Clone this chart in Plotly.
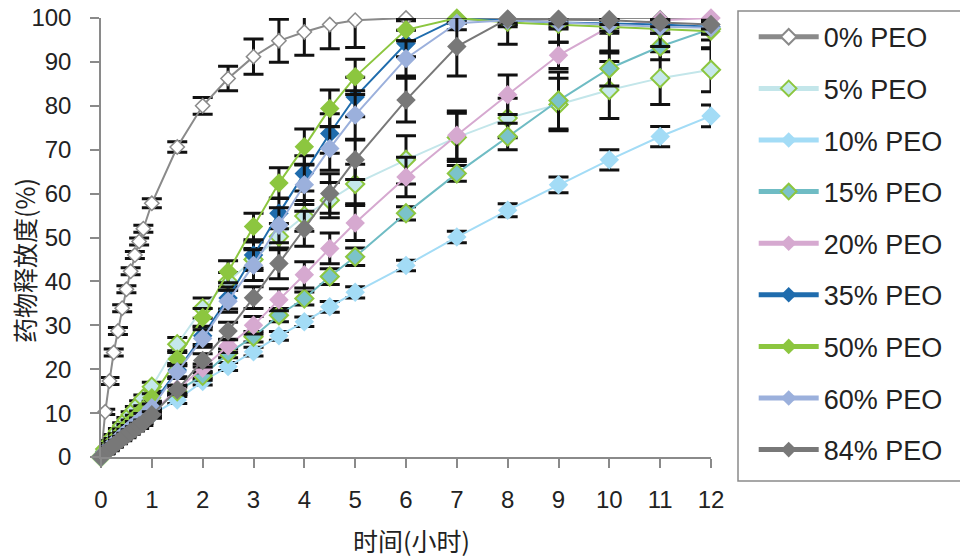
import plotly.graph_objects as go

# time points (hours): 0, 5..50 min, 1 h, then half-hourly to 5 h, then hourly
time_h = [0, 5/60, 10/60, 15/60, 20/60, 25/60, 30/60, 35/60, 40/60, 45/60, 50/60,
          1, 1.5, 2, 2.5, 3, 3.5, 4, 4.5, 5, 6, 7, 8, 9, 10, 11, 12]

series_names = ["0% PEO", "5% PEO", "10% PEO", "15% PEO", "20% PEO",
                "35% PEO", "50% PEO", "60% PEO", "84% PEO"]

peo0 = [0, 10.3, 17.3, 23.8, 28.7, 33.9, 38.2, 42.3, 46.0, 49.1, 52.0,
        57.8, 70.6, 80.0, 86.2, 91.2, 94.8, 96.8, 98.5, 99.5, 100, 100, 100, 100, 100, 100, 100]
peo5 = [0, 1.8, 3.2, 4.6, 5.9, 7.2, 8.4, 9.6, 10.8, 12.0, 13.3,
        16.0, 25.7, 33.9, 40.0, 45.0, 50.2, 54.9, 58.5, 62.2, 67.7, 72.8, 77.2, 80.3, 83.6, 86.3, 88.2]
peo10 = [0, 1.1, 2.0, 2.9, 3.7, 4.5, 5.3, 6.1, 6.9, 7.6, 8.3,
         9.6, 13.0, 17.2, 20.6, 24.0, 27.6, 30.8, 34.2, 37.5, 43.6, 50.1, 56.2, 62.0, 67.7, 73.0, 77.7]
peo15 = [0, 1.2, 2.1, 3.0, 3.9, 4.8, 5.6, 6.4, 7.2, 8.0, 8.8,
         10.4, 15.0, 18.5, 23.6, 27.4, 32.3, 36.1, 41.1, 45.6, 55.5, 64.6, 73.0, 81.2, 88.5, 93.5, 97.5]
peo20 = [0, 1.1, 2.0, 2.8, 3.6, 4.4, 5.2, 6.0, 6.8, 7.5, 8.3,
         10.0, 15.5, 20.2, 25.3, 30.0, 35.8, 41.5, 47.5, 53.3, 63.8, 73.3, 82.5, 91.5, 98.0, 99.5, 100]
peo35 = [0, 1.3, 2.3, 3.3, 4.2, 5.1, 6.0, 6.9, 7.8, 8.7, 9.6,
         11.8, 19.8, 27.6, 36.2, 46.0, 55.5, 64.6, 73.7, 82.0, 94.2, 99.8, 99.5, 99.0, 98.8, 98.5, 98.0]
peo50 = [0, 1.5, 2.6, 3.7, 4.8, 5.8, 6.8, 7.8, 8.8, 9.8, 10.9,
         13.5, 22.3, 31.8, 42.2, 52.5, 62.4, 70.7, 79.4, 86.6, 97.3, 100, 99.0, 98.5, 98.0, 97.5, 97.0]
peo60 = [0, 1.2, 2.2, 3.1, 4.0, 4.9, 5.7, 6.6, 7.4, 8.2, 9.1,
         11.2, 19.4, 27.0, 35.5, 43.7, 52.8, 62.0, 70.3, 77.9, 90.8, 98.8, 99.5, 99.0, 98.5, 98.0, 97.8]
peo84 = [0, 1.0, 1.8, 2.6, 3.4, 4.2, 4.9, 5.7, 6.4, 7.1, 7.8,
         9.6, 15.3, 22.0, 28.7, 36.3, 44.1, 52.0, 60.0, 67.7, 81.3, 93.5, 99.8, 99.7, 99.5, 99.0, 98.5]

# standard deviations (error bars)
err0 = [0, 0.6, 0.8, 0.8, 0.8, 0.8, 0.8, 0.8, 0.8, 0.8, 0.8,
        1.0, 1.2, 1.9, 2.8, 4.0, 4.9, 5.3, 5.5, 6.2, 0.6, 0.5, 0.5, 0.5, 0.5, 0.5, 0.5]
err5 = [0, 0.4, 0.5, 0.5, 0.6, 0.6, 0.6, 0.7, 0.7, 0.8, 0.8,
        1.0, 1.5, 2.3, 2.0, 2.5, 3.0, 3.5, 4.0, 4.5, 5.5, 5.5, 4.5, 6.0, 6.5, 6.0, 5.0]
err10 = [0, 0.3, 0.4, 0.4, 0.4, 0.5, 0.5, 0.5, 0.5, 0.6, 0.6,
         0.7, 0.8, 0.8, 0.9, 1.0, 1.0, 1.1, 1.2, 1.3, 1.2, 1.3, 1.5, 1.8, 2.3, 2.3, 2.5]
err15 = [0, 0.3, 0.4, 0.4, 0.4, 0.5, 0.5, 0.5, 0.5, 0.6, 0.6,
         0.7, 0.9, 1.0, 1.0, 1.2, 1.5, 1.5, 1.8, 2.0, 1.5, 1.8, 3.0, 6.5, 4.0, 3.0, 2.5]
err20 = [0, 0.3, 0.4, 0.4, 0.4, 0.5, 0.5, 0.5, 0.5, 0.6, 0.6,
         0.7, 0.9, 1.0, 1.5, 2.0, 2.5, 3.0, 3.5, 4.0, 4.5, 5.5, 4.5, 3.0, 1.5, 1.0, 1.0]
err35 = [0, 0.4, 0.5, 0.5, 0.5, 0.6, 0.6, 0.6, 0.7, 0.7, 0.8,
         0.9, 1.5, 2.0, 2.5, 3.0, 3.5, 4.0, 4.5, 4.5, 3.0, 1.0, 1.0, 1.0, 1.0, 1.0, 1.0]
err50 = [0, 0.4, 0.5, 0.5, 0.5, 0.6, 0.6, 0.6, 0.7, 0.7, 0.8,
         0.9, 1.5, 2.0, 2.5, 3.0, 3.5, 4.0, 4.2, 4.0, 2.5, 1.0, 5.0, 4.0, 6.0, 4.0, 4.0]
err60 = [0, 0.4, 0.5, 0.5, 0.5, 0.6, 0.6, 0.6, 0.7, 0.7, 0.8,
         0.9, 1.5, 2.0, 2.5, 3.5, 4.0, 4.5, 5.0, 5.5, 4.0, 1.5, 1.5, 1.5, 1.5, 1.5, 1.5]
err84 = [0, 0.3, 0.4, 0.4, 0.4, 0.5, 0.5, 0.5, 0.5, 0.6, 0.6,
         0.7, 1.0, 1.5, 2.0, 2.5, 3.5, 4.0, 4.5, 4.5, 5.0, 6.7, 1.0, 1.0, 1.0, 1.0, 1.0]

values = [peo0, peo5, peo10, peo15, peo20, peo35, peo50, peo60, peo84]
errors = [err0, err5, err10, err15, err20, err35, err50, err60, err84]

line_colors = ["#8a8a8a", "#c3e6ea", "#a3dcf6", "#6fbcc4", "#d6a9d0",
               "#1f6cad", "#8cc63f", "#9bb0dc", "#787878"]
fill_colors = ["#ffffff", "#c5e8ec", "#a3dcf6", "#7bc3ca", "#d6a9d0",
               "#1f6cad", "#8cc63f", "#9bb0dc", "#787878"]
border_colors = ["#8a8a8a", "#8cc63f", "#a3dcf6", "#8cc63f", "#d6a9d0",
                 "#1f6cad", "#8cc63f", "#9bb0dc", "#787878"]
marker_sizes = [11, 14, 15, 14, 15, 15, 15, 15, 15]
border_widths = [1.5, 2, 0, 2, 0, 0, 0, 0, 0]

x_ticks = [0, 1, 2, 3, 4, 5, 6, 7, 8, 9, 10, 11, 12]
y_ticks = [0, 10, 20, 30, 40, 50, 60, 70, 80, 90, 100]

fig = go.Figure()
for i, name in enumerate(series_names):
    fig.add_trace(go.Scatter(
        x=time_h, y=values[i], name=name, mode="lines+markers",
        legendgroup=name, cliponaxis=False,
        line=dict(color=line_colors[i], width=2),
        marker=dict(symbol="diamond", size=marker_sizes[i], color=fill_colors[i],
                    line=dict(color=border_colors[i], width=border_widths[i])),
        error_y=dict(type="data", array=errors[i], visible=True,
                     color="#111111", thickness=3, width=10),
    ))

axis_font = dict(family="Liberation Sans, Arial, sans-serif", size=24, color="#222222")
fig.update_layout(
    width=960, height=558,
    margin=dict(l=101, r=249, t=18, b=101, autoexpand=False),
    paper_bgcolor="white", plot_bgcolor="white",
    showlegend=True,
    legend=dict(
        x=1.07, y=1.012, xanchor="left", yanchor="top",
        font=dict(family="Liberation Sans, Arial, sans-serif", size=27, color="#222222"),
        bgcolor="rgba(0,0,0,0)", borderwidth=0,
        tracegroupgap=13.5, itemwidth=60, itemsizing="constant",
        maxheight=540,
    ),
    xaxis=dict(range=[0, 12], tickvals=x_ticks, ticktext=[str(v) for v in x_ticks],
               showgrid=False, zeroline=False, showline=True, linecolor="#8a8a8a", linewidth=1.5,
               ticks="outside", ticklen=9, tickcolor="#8a8a8a", tickwidth=1.5,
               tickfont=axis_font, ticklabelstandoff=11, automargin=False),
    yaxis=dict(range=[0, 100], tickvals=y_ticks, ticktext=[str(v) for v in y_ticks],
               showgrid=False, zeroline=False, showline=True, linecolor="#8a8a8a", linewidth=1.5,
               ticks="outside", ticklen=9, tickcolor="#8a8a8a", tickwidth=1.5,
               tickfont=axis_font, ticklabelstandoff=14, automargin=False),
    shapes=[dict(type="rect", xref="paper", yref="paper",
                 x0=(738 - 101) / 610, x1=(966 - 101) / 610,
                 y0=(457 - 481) / 439, y1=(457 - 11) / 439,
                 line=dict(color="#8a8a8a", width=1.5), fillcolor="rgba(0,0,0,0)")],
    annotations=[
        dict(text="时间(小时)", xref="paper", yref="paper", x=(411 - 101) / 610, y=(457 - 540) / 439,
             showarrow=False, xanchor="center", yanchor="middle",
             font=dict(family="Noto Sans CJK SC", size=25, color="#222222")),
        dict(text="药物释放度(%)", xref="paper", yref="paper", x=(24 - 101) / 610, y=(457 - 260) / 439,
             showarrow=False, xanchor="center", yanchor="middle", textangle=-90,
             font=dict(family="Noto Sans CJK SC", size=25, color="#222222")),
    ],
)

# remove the browser's default 8px page margin so the figure sits at the window origin
fig.write_html("out.html", config={"displayModeBar": False},
               post_script="document.body.style.margin='0px';document.body.style.overflow='hidden';")
